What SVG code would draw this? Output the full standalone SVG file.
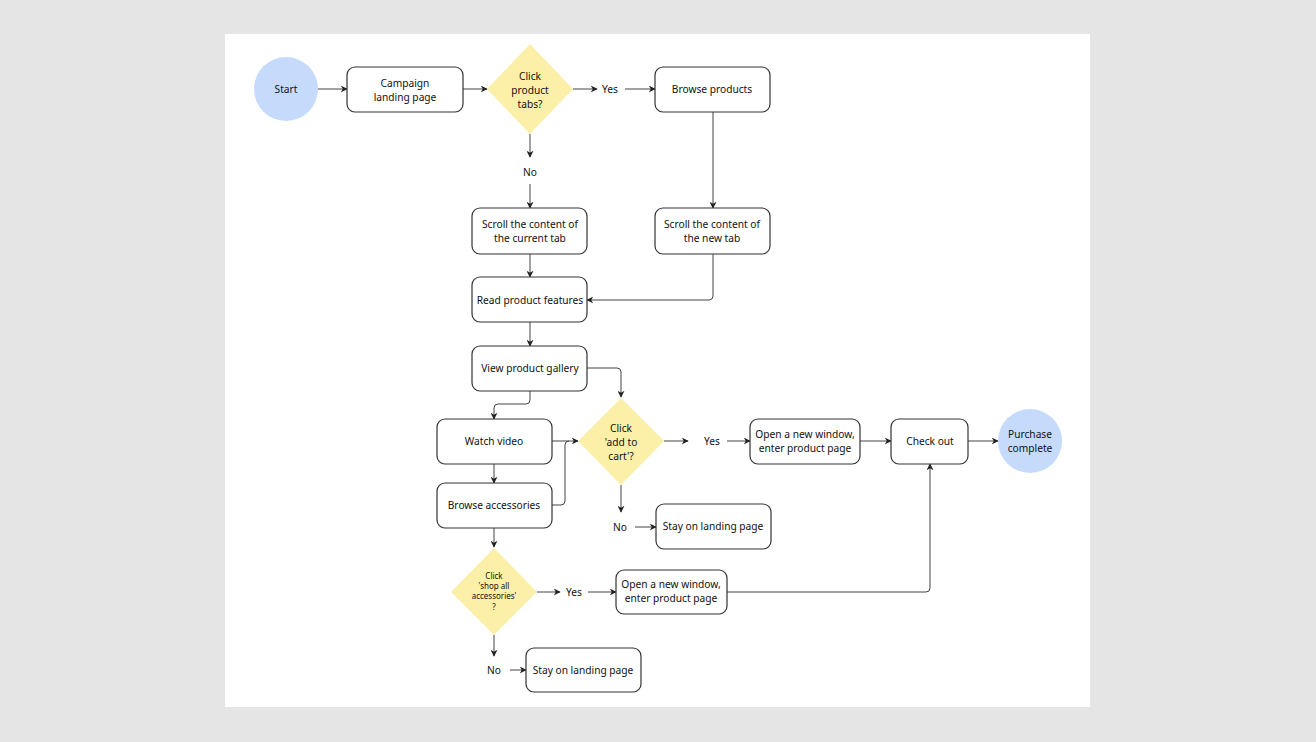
<svg xmlns="http://www.w3.org/2000/svg" width="1316" height="742" viewBox="0 0 1316 742">
<style>
.box{fill:#fff;stroke:#333;stroke-width:1.2}
.term{fill:#c6dbfb}
.dec{fill:#fcf0a8}
.t{font-family:"Noto Sans",sans-serif;font-size:10.2px;fill:#111;text-anchor:middle}
.ts{font-family:"Noto Sans",sans-serif;font-size:8px;fill:#111;text-anchor:middle}
.c{fill:none;stroke:#444;stroke-width:1}
</style>
<defs>
<marker id="ah" viewBox="0 0 10 10" refX="9" refY="5" markerWidth="7" markerHeight="7" orient="auto" markerUnits="userSpaceOnUse">
<path d="M0,0 L10,5 L0,10 L3,5 Z" fill="#222"/>
</marker>
</defs>
<rect width="1316" height="742" fill="#e5e5e5"/>
<rect x="225" y="34" width="865" height="673" fill="#fff"/>
<g id="connectors">
<path class="c" d="M318,89 H347" marker-end="url(#ah)"/>
<path class="c" d="M463,89 H487" marker-end="url(#ah)"/>
<path class="c" d="M573,89 H597" marker-end="url(#ah)"/>
<path class="c" d="M625,89 H655" marker-end="url(#ah)"/>
<path class="c" d="M530,134 V157" marker-end="url(#ah)"/>
<path class="c" d="M530,184 V208" marker-end="url(#ah)"/>
<path class="c" d="M713,112 V208" marker-end="url(#ah)"/>
<path class="c" d="M530,254 V277" marker-end="url(#ah)"/>
<path class="c" d="M713,254 V296 Q713,300 709,300 H587" marker-end="url(#ah)"/>
<path class="c" d="M530,322 V346" marker-end="url(#ah)"/>
<path class="c" d="M587,368 H617 Q621,368 621,372 V397" marker-end="url(#ah)"/>
<path class="c" d="M530,391 V400 Q530,404 526,404 H498 Q494,404 494,408 V419" marker-end="url(#ah)"/>
<path class="c" d="M552,441 H578" marker-end="url(#ah)"/>
<path class="c" d="M552,505 H561 Q565,505 565,501 V445 Q565,441 569,441"/>
<path class="c" d="M494,464 V483" marker-end="url(#ah)"/>
<path class="c" d="M621,485 V512" marker-end="url(#ah)"/>
<path class="c" d="M635,527 H656" marker-end="url(#ah)"/>
<path class="c" d="M664,441 H688" marker-end="url(#ah)"/>
<path class="c" d="M727,441 H750" marker-end="url(#ah)"/>
<path class="c" d="M860,441 H891" marker-end="url(#ah)"/>
<path class="c" d="M968,441 H998" marker-end="url(#ah)"/>
<path class="c" d="M494,528 V547" marker-end="url(#ah)"/>
<path class="c" d="M537,592 H560" marker-end="url(#ah)"/>
<path class="c" d="M588,592 H616" marker-end="url(#ah)"/>
<path class="c" d="M727,592 H926 Q930,592 930,588 V464" marker-end="url(#ah)"/>
<path class="c" d="M494,635 V656" marker-end="url(#ah)"/>
<path class="c" d="M510,670 H526" marker-end="url(#ah)"/>
</g>
<g id="labels">
<text class="t" x="610" y="93">Yes</text>
<text class="t" x="530" y="176">No</text>
<text class="t" x="712" y="445">Yes</text>
<text class="t" x="620" y="531">No</text>
<text class="t" x="574" y="596">Yes</text>
<text class="t" x="494" y="674">No</text>
</g>
<g id="start"><circle class="term" cx="286" cy="89" r="32"/><text class="t" x="286" y="93">Start</text></g>
<g id="campaign"><rect class="box" x="347" y="67" width="116" height="45" rx="8"/><text class="t" x="405" y="87">Campaign</text><text class="t" x="405" y="101">landing page</text></g>
<g id="d1"><polygon class="dec" points="530,44 573,89 530,134 487,89"/><text class="t" x="530" y="80">Click</text><text class="t" x="530" y="94">product</text><text class="t" x="530" y="108">tabs?</text></g>
<g id="browse"><rect class="box" x="655" y="67" width="115" height="45" rx="8"/><text class="t" x="712" y="93">Browse products</text></g>
<g id="scrollcur"><rect class="box" x="472" y="208" width="115" height="46" rx="8"/><text class="t" x="530" y="228">Scroll the content of</text><text class="t" x="530" y="242">the current tab</text></g>
<g id="scrollnew"><rect class="box" x="655" y="208" width="115" height="46" rx="8"/><text class="t" x="712" y="228">Scroll the content of</text><text class="t" x="712" y="242">the new tab</text></g>
<g id="read"><rect class="box" x="472" y="277" width="115" height="45" rx="8"/><text class="t" x="530" y="304">Read product features</text></g>
<g id="gallery"><rect class="box" x="472" y="346" width="115" height="45" rx="8"/><text class="t" x="530" y="372">View product gallery</text></g>
<g id="video"><rect class="box" x="437" y="419" width="115" height="45" rx="8"/><text class="t" x="494" y="445">Watch video</text></g>
<g id="acc"><rect class="box" x="437" y="483" width="115" height="45" rx="8"/><text class="t" x="494" y="509">Browse accessories</text></g>
<g id="d2"><polygon class="dec" points="621,398 664,441 621,485 578,441"/><text class="t" x="621" y="432">Click</text><text class="t" x="621" y="446">'add to</text><text class="t" x="621" y="460">cart'?</text></g>
<g id="stay1"><rect class="box" x="656" y="504" width="115" height="45" rx="8"/><text class="t" x="713" y="530">Stay on landing page</text></g>
<g id="open1"><rect class="box" x="750" y="419" width="110" height="45" rx="8"/><text class="t" x="805" y="438">Open a new window,</text><text class="t" x="805" y="452">enter product page</text></g>
<g id="checkout"><rect class="box" x="891" y="419" width="77" height="45" rx="8"/><text class="t" x="930" y="445">Check out</text></g>
<g id="done"><circle class="term" cx="1030" cy="441" r="32"/><text class="t" x="1030" y="438">Purchase</text><text class="t" x="1030" y="452">complete</text></g>
<g id="d3"><polygon class="dec" points="494,548 537,592 494,635 451,592"/><text class="ts" x="494" y="579">Click</text><text class="ts" x="494" y="589">'shop all</text><text class="ts" x="494" y="599">accessories'</text><text class="ts" x="494" y="610">?</text></g>
<g id="open2"><rect class="box" x="616" y="570" width="111" height="44" rx="8"/><text class="t" x="671" y="588">Open a new window,</text><text class="t" x="671" y="602">enter product page</text></g>
<g id="stay2"><rect class="box" x="526" y="648" width="115" height="44" rx="8"/><text class="t" x="583" y="674">Stay on landing page</text></g>
</svg>
